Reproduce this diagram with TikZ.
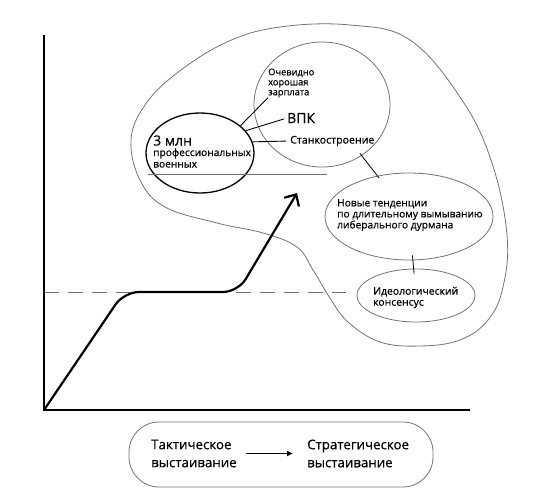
\documentclass[tikz,border=0pt]{standalone}
\usepackage{fontspec}
\setmainfont{Open Sans}[FakeBold=0.5]
\usetikzlibrary{shapes,arrows.meta}
\tikzset{
  contour/.style={draw=black!55,line width=0.8pt},
  lbl/.style={inner sep=0pt,align=left,anchor=west},
}

\begin{document}
\begin{tikzpicture}[x=1pt,y=-1pt]
\useasboundingbox (0,0) rectangle (550,504);
  \coordinate (orig) at (44,410);
  \coordinate (ytop) at (44,35);
  \coordinate (xend) at (470,410);
  \coordinate (tip) at (297,193);

  \draw[contour] plot[smooth cycle,tension=0.65] coordinates {
    (131,140) (145,105) (177,73) (227,42) (280,27) (350,25) (410,40)
    (462,100) (492,163) (507,235) (503,287) (488,320) (460,340)
    (420,346) (380,342) (348,322) (330,298) (313,270) (297,247)
    (263,233) (217,223) (165,207) (140,180)};

  \node[contour,ellipse,minimum width=136pt,minimum height=125pt] (zp) at (322,104.5) {};
  \node[draw,ellipse,line width=1.3pt,minimum width=108pt,minimum height=80pt] (mln) at (200,153) {};
  \node[contour,ellipse,minimum width=168pt,minimum height=87pt] (novye) at (409,216.5) {};
  \node[contour,ellipse,minimum width=118pt,minimum height=53pt] (ideo) at (416,295.5) {};

  \node[lbl,font=\fontsize{9.3}{10}\selectfont] (oczp) at (268,83) {Очевидно\\хорошая\\зарплата};
  \node[lbl,font=\fontsize{14}{16}\selectfont] (vpk) at (287,118) {ВПК};
  \node[lbl,font=\fontsize{10.6}{11}\selectfont] (stanok) at (290,141) {Станкостроение};
  \node[lbl,font=\fontsize{10.2}{11.5}\selectfont] (mlntxt) at (153,151.5)
    {{\fontsize{14}{16}\selectfont 3 млн}\\[-1pt] профессиональных\\ военных};
  \node[lbl,font=\fontsize{10.2}{11}\selectfont] (novtxt) at (337,215)
    {Новые тенденции\\ по длительному вымыванию\\ либерального дурмана};
  \node[lbl,font=\fontsize{10.4}{11}\selectfont] (ideotxt) at (373,297.5)
    {Идеологический\\ консенсус};

  \draw[line width=0.9pt] (mln.34) -- (oczp.south west);
  \draw[line width=0.9pt,shorten >=3pt] (mln.26) -- (vpk.west);
  \draw[line width=0.9pt,shorten >=4pt] (mln.12) -- (stanok.west);
  \draw[line width=0.8pt,shorten <=-3pt,shorten >=-3pt] (zp) -- (novye);
  \draw[line width=0.8pt,shorten <=-5pt,shorten >=-5pt] (novye) -- (ideo);

  \draw[draw=black!55,line width=0.9pt] (148,174) -- (327,174);
  \draw[draw=black!55,line width=1pt,dash pattern=on 15pt off 9pt] (44,292) -- (346,292);

  \draw[line width=1.8pt] (ytop) -- (orig) -- (xend);
  \draw[line width=2.2pt,rounded corners=15pt,-{Straight Barb[length=9pt,width=17pt]}]
    (orig) -- (124,292) -- (238,292) -- (tip);

  \node[contour,rectangle,rounded corners=30pt,minimum width=304pt,minimum height=65pt] (box) at (281,454.5) {};
  \node[lbl,font=\fontsize{13.3}{18}\selectfont] (tact) at (151,453.5) {Тактическое\\ выстаивание};
  \node[lbl,font=\fontsize{13.3}{18}\selectfont] (strat) at (307,453.5) {Стратегическое\\ выстаивание};
  \draw[line width=1pt,-{Latex[length=6pt,width=6pt]},shorten <=9pt,shorten >=14pt] (tact.east) -- (strat.west);
\end{tikzpicture}
\end{document}
